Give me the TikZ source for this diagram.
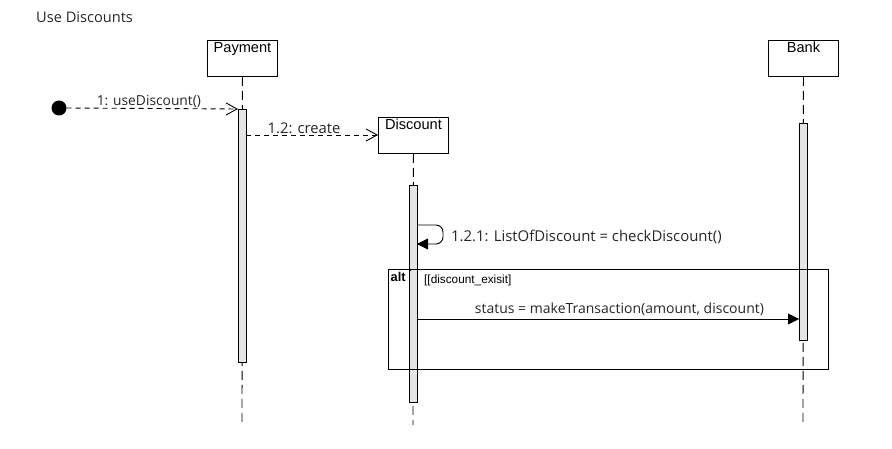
\documentclass[tikz,border=0pt]{standalone}
\usepackage{fontspec}
\setmainfont{Open Sans}
\newfontfamily\arialf{Liberation Sans}
\usetikzlibrary{arrows.meta}
\begin{document}
\begin{tikzpicture}[x=1pt,y=-1pt,
  objbox/.style={draw, line width=0.9pt, minimum width=70pt, minimum height=36pt, inner sep=0pt, anchor=north west},
  objname/.style={anchor=north, font=\arialf\fontsize{14.6}{16}\selectfont, inner sep=0pt},
  lifeline/.style={line width=0.9pt, dash pattern=on 9pt off 5pt},
  actbar/.style={draw, fill=gray!20, line width=0.9pt, anchor=north west, minimum width=8pt, inner sep=0pt},
  asyncmsg/.style={line width=0.9pt, dash pattern=on 5pt off 4pt, -{Straight Barb[length=11pt,width=12pt,line width=0.9pt]}},
  syncmsg/.style={line width=0.9pt, -{Triangle[length=11pt,width=11pt]}},
  lbl/.style={text=black!85, inner sep=1pt}
]
\useasboundingbox (0,0) rectangle (892,449);
\node[anchor=base west, font=\fontsize{14.6}{16}\selectfont, text=black!85, inner sep=0pt] (title) at (36,23) {Use Discounts};

% objects
\node[objbox] (pay) at (207,40) {};
\node[objname] at ([yshift=-2pt]pay.north) {Payment};
\node[objbox] (bank) at (768,40) {};
\node[objname] at ([yshift=-2pt]bank.north) {Bank};
\node[objbox] (disc) at (378,117) {};
\node[objname] at ([yshift=-2pt]disc.north) {Discount};

% lifelines
\coordinate (payend) at (242,425);
\coordinate (discend) at (413,425);
\coordinate (bankend) at (803,425);
\draw[lifeline] (pay.south) -- (payend);
\draw[lifeline] (disc.south) -- (discend);
\draw[lifeline] (bank.south) -- (bankend);

% activation bars
\node[actbar, minimum height=253pt] (payact) at (238,109) {};
\node[actbar, minimum height=217pt] (discact) at (409,185) {};
\node[actbar, minimum height=217pt] (bankact) at (799,123) {};

% start
\node[circle, fill=black, minimum size=15pt, inner sep=0pt] (start) at (59,108) {};
\draw[asyncmsg] (start.east) -- (payact.north west) node[lbl, font=\fontsize{13.8}{15}\selectfont, pos=0.48, above, yshift=-1pt] {1: useDiscount()};

% create
\coordinate (c1) at (246,135);
\draw[asyncmsg] (c1) -- (c1 -| disc.west) node[lbl, font=\fontsize{14.8}{16}\selectfont, pos=0.44, above] {1.2: create};

% self message
\coordinate (s1) at (417,225);
\coordinate (s2) at (417,244);
\draw[syncmsg, rounded corners=7pt] (s1) -- (443,225) -- (443,244) -- (s2);
\node[lbl, anchor=west, font=\fontsize{14.9}{16}\selectfont] at (450,237) {1.2.1: ListOfDiscount = checkDiscount()};

% alt frame
\node[draw, line width=0.9pt, anchor=north west, minimum width=440pt, minimum height=100pt, inner sep=0pt] (alt) at (388,269) {};
\draw[line width=0.6pt] ([xshift=21pt,yshift=-3pt]alt.north west) -- ++(3,-3);
\node[anchor=north west, font=\arialf\bfseries\fontsize{12.8}{14}\selectfont, inner sep=0pt] at ([xshift=2.5pt,yshift=-3pt]alt.north west) {alt};
\node[anchor=north west, font=\arialf\fontsize{11.8}{13}\selectfont, inner sep=0pt] at (424,275) {[[discount\_exisit]};

% transaction
\coordinate (t1) at (417,319);
\draw[syncmsg] (t1) -- (t1 -| bankact.west) node[lbl, font=\fontsize{14}{16}\selectfont, pos=0.53, above, yshift=2pt] {status = makeTransaction(amount, discount)};
\end{tikzpicture}
\end{document}
